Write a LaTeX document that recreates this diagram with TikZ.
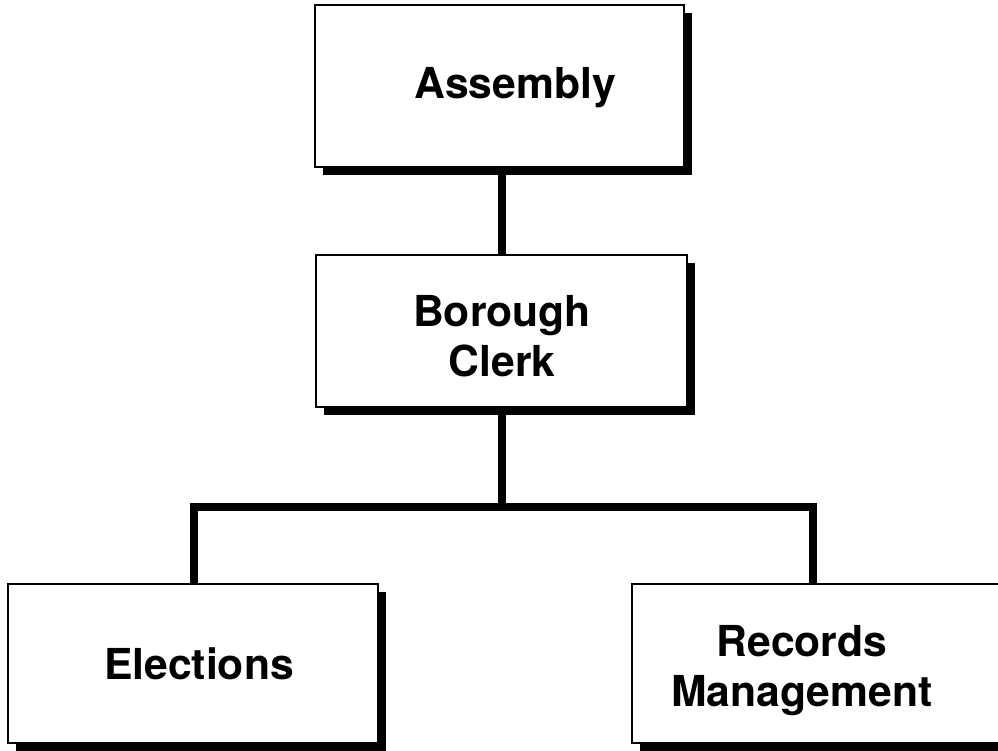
\documentclass[tikz,border=0pt]{standalone}
\usepackage{fontspec}
\setmainfont{TeX Gyre Heros}
\usetikzlibrary{shadows}
\begin{document}
\begin{tikzpicture}[x=0.75pt,y=-0.75pt,
  orgbox/.style={draw=black, line width=1.5pt, fill=white, rectangle, inner sep=0pt,
    drop shadow={shadow xshift=6pt, shadow yshift=-6pt, fill=black, opacity=1}},
  lbl/.style={font=\bfseries\fontsize{32}{37.5}\selectfont, align=center, inner sep=0pt, anchor=base},
  conn/.style={line width=5.5pt, line join=miter, line cap=butt}]
\useasboundingbox (0,0) rectangle (998,750);
\clip (0,0) rectangle (998,750);
\fill[white] (0,0) rectangle (998,750);
% boxes
\node[orgbox, minimum width=276.75pt, minimum height=121.5pt] (asm) at (499.5,86) {};
\node[orgbox, minimum width=278.25pt, minimum height=114pt] (bc) at (501.5,331) {};
\node[orgbox, minimum width=277.5pt, minimum height=119.25pt] (el) at (193,663.5) {};
\node[orgbox, minimum width=279.75pt, minimum height=119.25pt] (rm) at (818.5,663.5) {};
% labels
\node[lbl] (tasm) at (515,98) {Assembly};
\node[lbl] (tbc) at (502,376) {Borough\\Clerk};
\node[lbl] (tel) at (199,679) {Elections};
\node[lbl] (trm) at (802,706) {Records\\Management};
% connectors
\coordinate (jL) at (194,507);
\coordinate (jM) at (502,507);
\coordinate (jR) at (813,507);
\draw[conn] (bc.north -| jM) -- (asm.south -| jM);
\draw[conn] (bc.south -| jM) -- (jM);
\draw[conn] (el.north -| jL) -- (jL) -- (jR) -- (rm.north -| jR);
\end{tikzpicture}
\end{document}
